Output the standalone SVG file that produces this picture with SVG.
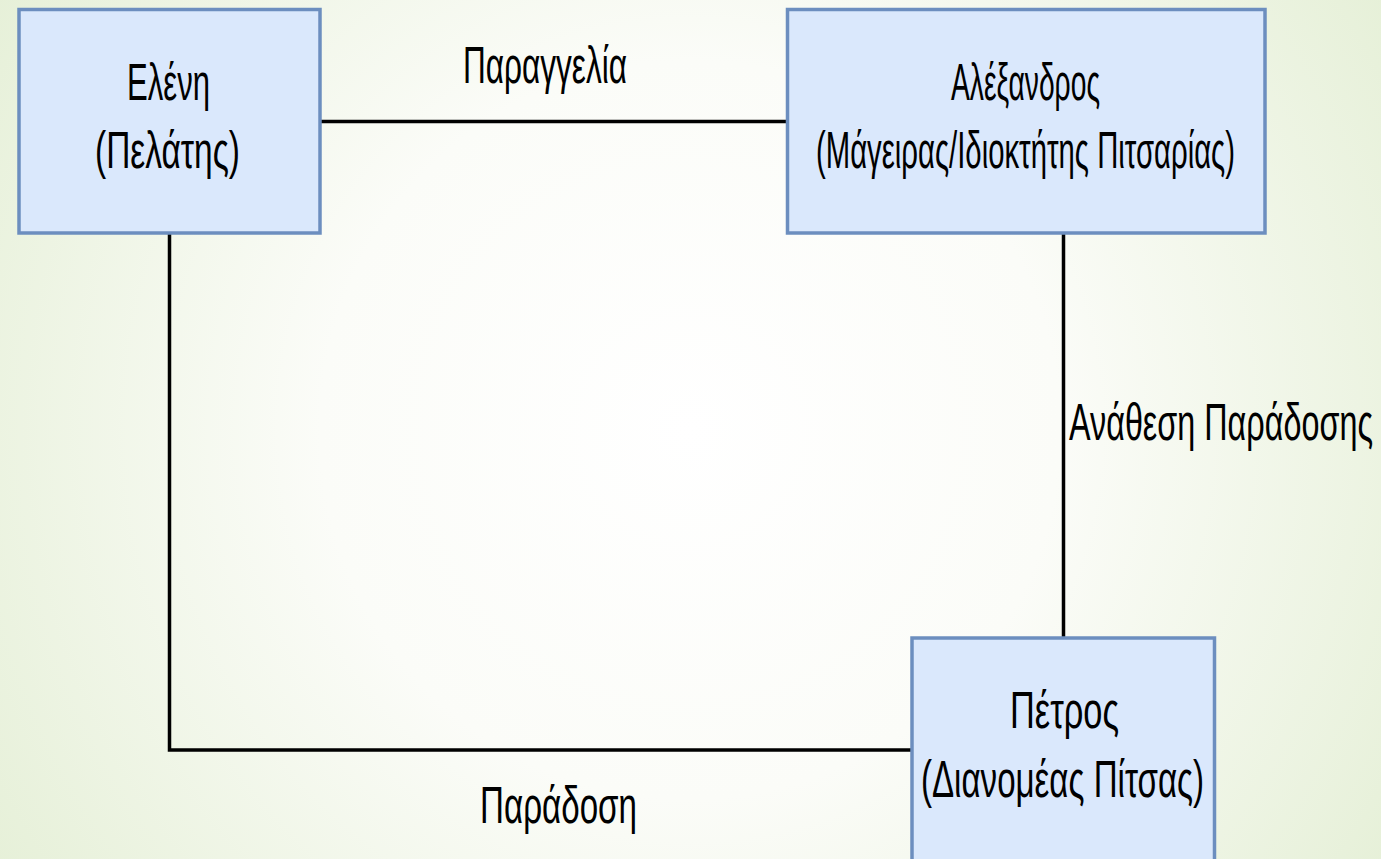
<svg xmlns="http://www.w3.org/2000/svg" width="1381" height="859" viewBox="0 0 1381 859">
  <defs>
    <radialGradient id="bg" cx="690" cy="430" r="820" gradientUnits="userSpaceOnUse">
      <stop offset="0" stop-color="#ffffff"/>
      <stop offset="0.45" stop-color="#fbfcf8"/>
      <stop offset="1" stop-color="#e6f0d8"/>
    </radialGradient>
  </defs>
  <style>
    .box { fill: #dae8fc; stroke: #6c8ebf; stroke-width: 3.5; }
    .link { fill: none; stroke: #000000; stroke-width: 3.5; }
    .t { font-family: "Liberation Sans Narrow", "Liberation Sans", Arial, sans-serif; font-size: 52px; fill: #000000; }
  </style>

  <rect x="0" y="0" width="1381" height="859" fill="url(#bg)"/>

  <!-- connectors -->
  <g id="connectors">
    <line class="link" x1="321" y1="121.5" x2="787" y2="121.5" stroke-width="4"/>
    <line class="link" x1="1063.5" y1="234" x2="1063.5" y2="637" stroke-width="3"/>
    <polyline class="link" points="169.5,234 169.5,750 912,750"/>
    <text class="t" x="463" y="83" textLength="164" lengthAdjust="spacingAndGlyphs">Παραγγελία</text>
    <text class="t" x="1069" y="440" textLength="304" lengthAdjust="spacingAndGlyphs">Ανάθεση Παράδοσης</text>
    <text class="t" x="480" y="823" textLength="157" lengthAdjust="spacingAndGlyphs">Παράδοση</text>
  </g>

  <!-- customer -->
  <g id="eleni">
    <rect class="box" x="19" y="9.5" width="301" height="223.5"/>
    <text class="t" x="127" y="100" textLength="83" lengthAdjust="spacingAndGlyphs">Ελένη</text>
    <text class="t" x="95" y="168" textLength="145" lengthAdjust="spacingAndGlyphs">(Πελάτης)</text>
  </g>

  <!-- cook / pizzeria owner -->
  <g id="alexandros">
    <rect class="box" x="787.5" y="9.5" width="477.5" height="223.5"/>
    <text class="t" x="951" y="100" textLength="149" lengthAdjust="spacingAndGlyphs">Αλέξανδρος</text>
    <text class="t" x="816" y="168" textLength="419" lengthAdjust="spacingAndGlyphs">(Μάγειρας/Ιδιοκτήτης Πιτσαρίας)</text>
  </g>

  <!-- delivery -->
  <g id="petros">
    <rect class="box" x="912" y="638" width="302.5" height="240"/>
    <text class="t" x="1010" y="728" textLength="109" lengthAdjust="spacingAndGlyphs">Πέτρος</text>
    <text class="t" x="921" y="797" textLength="283" lengthAdjust="spacingAndGlyphs">(Διανομέας Πίτσας)</text>
  </g>
</svg>
